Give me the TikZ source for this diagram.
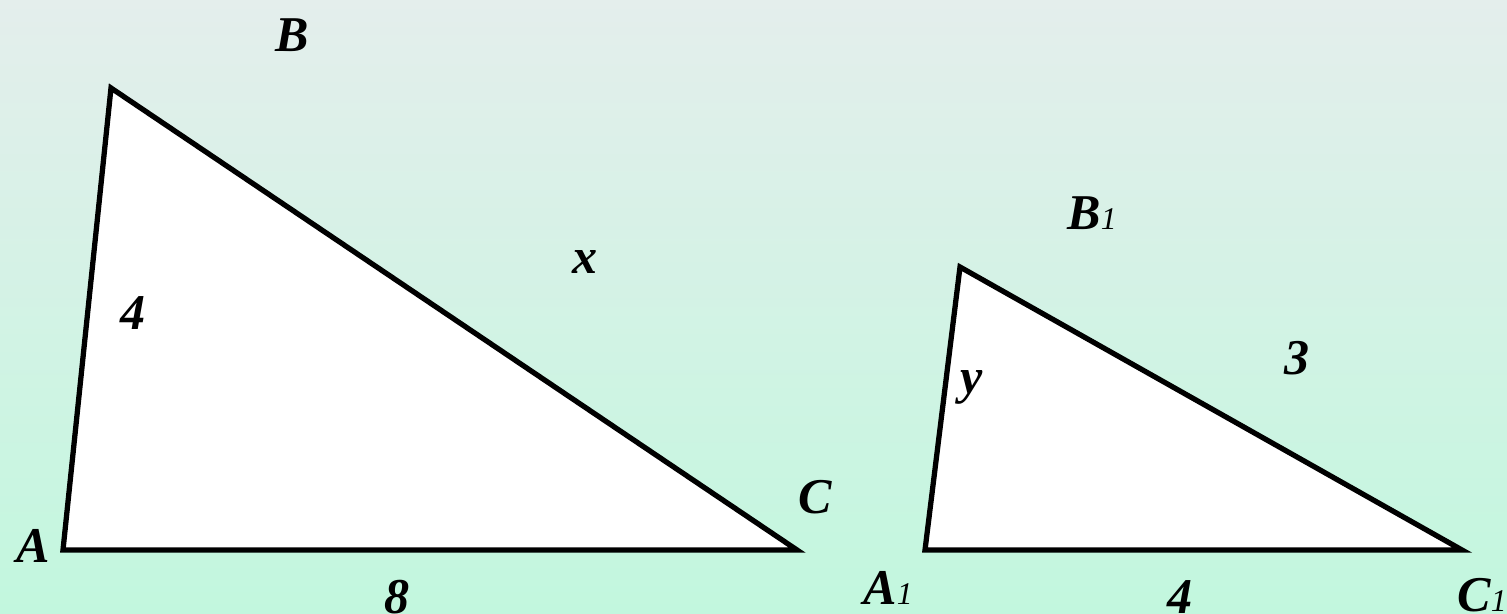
\documentclass[tikz,border=0pt]{standalone}
\usepackage{fontspec}
\setmainfont{Liberation Serif}
\usetikzlibrary{positioning}
\definecolor{bgtop}{RGB}{228,238,236}
\definecolor{bgbot}{RGB}{194,247,222}
\newcommand{\sub}[1]{{\fontsize{18}{18}\selectfont\mdseries #1}}

\begin{document}
\begin{tikzpicture}[x=0.02cm, y=0.02cm,
  tri/.style={draw=black, fill=white, line width=3pt, line join=miter},
  lbl/.style={font=\fontsize{28.5}{30}\selectfont\bfseries\itshape, inner sep=0pt}]
  \shade[top color=bgtop, bottom color=bgbot] (0,0) rectangle (1507,613);
  \useasboundingbox (0,0) rectangle (1507,613);

  % big triangle
  \coordinate (A) at (63,63);
  \coordinate (B) at (111,525);
  \coordinate (C) at (797,63);
  \draw[tri] (A) -- (B) -- (C) -- cycle;

  % small triangle
  \coordinate (A1) at (925,63);
  \coordinate (B1) at (960,346);
  \coordinate (C1) at (1462,63);
  \draw[tri] (A1) -- (B1) -- (C1) -- cycle;

  \node[lbl] (lA) at (33,67) {A};
  \node[lbl] (lB) at (292,578) {B};
  \node[lbl] (lC) at (815,116) {C};
  \node[lbl] (l4) at (133,300) {4};
  \node[lbl] (lx) at (585,351) {x};
  \node[lbl] (l8) at (397,16) {8};

  \node[lbl] (lA1) at (888,25) {A\sub{1}};
  \node[lbl] (lB1) at (1092,400) {B\sub{1}};
  \node[lbl] (lC1) at (1482,18) {C\sub{1}};
  \node[lbl] (ly) at (972,226) {y};
  \node[lbl] (l3) at (1297,255) {3};
  \node[lbl] (l4b) at (1180,16) {4};
\end{tikzpicture}
\end{document}
